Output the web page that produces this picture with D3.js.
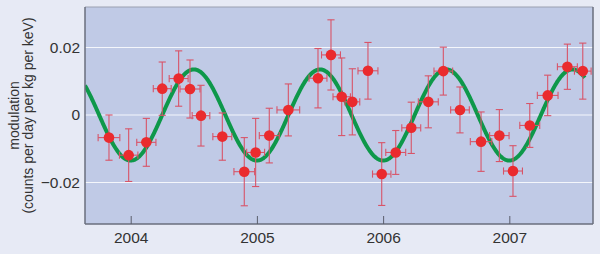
<!DOCTYPE html>
<html>
<head>
<meta charset="utf-8">
<script src="https://cdn.jsdelivr.net/npm/d3@7"></script>
<style>
  html, body { margin: 0; padding: 0; background: #e7eaf5; }
  svg { display: block; }
  text { font-family: "Liberation Sans", Arial, Helvetica, sans-serif; fill: #333; }
</style>
</head>
<body>
<svg id="chart" width="600" height="254"></svg>
<script>
// ---- data ----
const years = [2003.828, 2003.984, 2004.124, 2004.250, 2004.380, 2004.470, 2004.557, 2004.726, 2004.900, 2004.990,
               2005.098, 2005.249, 2005.484, 2005.587, 2005.672, 2005.756, 2005.880, 2005.989, 2006.100, 2006.223,
               2006.358, 2006.477, 2006.609, 2006.776, 2006.921, 2007.029, 2007.162, 2007.304, 2007.460, 2007.582];
const values = [-0.0067, -0.0119, -0.0081, 0.0078, 0.0108, 0.0077, -0.0002, -0.0064, -0.0168, -0.0111,
                -0.0061, 0.0015, 0.0109, 0.0178, 0.0054, 0.0039, 0.0131, -0.0175, -0.0111, -0.0038,
                0.0039, 0.0130, 0.0015, -0.0079, -0.0061, -0.0166, -0.0031, 0.0058, 0.0143, 0.0130];
const yErrors = [0.0067, 0.0078, 0.0071, 0.0079, 0.0082, 0.0086, 0.0090, 0.0070, 0.0101, 0.0101,
                 0.0081, 0.0077, 0.0088, 0.0104, 0.0115, 0.0098, 0.0084, 0.0093, 0.0065, 0.0076,
                 0.0077, 0.0071, 0.0068, 0.0088, 0.0077, 0.0075, 0.0065, 0.0060, 0.0067, 0.0083];
const xErrors = [0.086, 0.073, 0.076, 0.071, 0.075, 0.079, 0.070, 0.075, 0.082, 0.071,
                 0.079, 0.090, 0.071, 0.075, 0.069, 0.059, 0.079, 0.073, 0.079, 0.075,
                 0.079, 0.074, 0.074, 0.085, 0.077, 0.075, 0.079, 0.082, 0.079, 0.066];
const xTicks = [2004, 2005, 2006, 2007];
const yTicks = [-0.02, 0, 0.02];
const yTickLabels = ["\u22120.02", "0", "0.02"];
// cosine model curve parameters (fit shown in green)
const modelAmplitude = 0.0135;
const modelPeriod = 1.0;      // years
const modelPeakPhase = 0.5;   // fraction of year at maximum
const modelRange = [2003.638, 2007.60];

// ---- layout ----
const svg = d3.select("#chart");
const plot = { left: 85, right: 593, top: 7, bottom: 224 };

const x = d3.scaleLinear().domain([2003.638, 2007.663]).range([plot.left, plot.right]);
const y = d3.scaleLinear().domain([-0.0323, 0.0320]).range([plot.bottom, plot.top]);

svg.append("rect").attr("width", 600).attr("height", 254).attr("fill", "#e7eaf5");

// panel
svg.append("rect")
  .attr("x", plot.left).attr("y", plot.top)
  .attr("width", plot.right - plot.left).attr("height", plot.bottom - plot.top)
  .attr("fill", "#c0cae6");

// grid lines
svg.append("g").selectAll("line").data(yTicks).join("line")
  .attr("x1", plot.left).attr("x2", plot.right)
  .attr("y1", d => y(d)).attr("y2", d => y(d))
  .attr("stroke", "#f4f6fb").attr("stroke-width", 1.2);

// clip
svg.append("clipPath").attr("id", "clip").append("rect")
  .attr("x", plot.left).attr("y", plot.top)
  .attr("width", plot.right - plot.left).attr("height", plot.bottom - plot.top);

const g = svg.append("g").attr("clip-path", "url(#clip)");

// model curve
const curveXs = d3.range(modelRange[0], modelRange[1] + 1e-9, 0.005);
const line = d3.line()
  .x(t => x(t))
  .y(t => y(modelAmplitude * Math.cos(2 * Math.PI * (t - modelPeakPhase) / modelPeriod)))
  .curve(d3.curveLinear);
g.append("path").datum(curveXs)
  .attr("d", line)
  .attr("fill", "none")
  .attr("stroke", "#0e984a")
  .attr("stroke-width", 4)
  .attr("stroke-linecap", "butt");

// error bars
const pts = years.map((t, i) => ({ t, v: values[i], ey: yErrors[i], ex: xErrors[i] }));
const errColor = "#d85468";
const cap = 3.6;
const eb = g.append("g").attr("stroke", errColor).attr("stroke-width", 1.1).attr("fill", "none");
pts.forEach(p => {
  const cx = x(p.t), cy = y(p.v);
  const y1 = y(p.v + p.ey), y2 = y(p.v - p.ey);
  const x1 = x(p.t - p.ex), x2 = x(p.t + p.ex);
  eb.append("line").attr("x1", cx).attr("x2", cx).attr("y1", y1).attr("y2", y2);
  eb.append("line").attr("x1", cx - cap).attr("x2", cx + cap).attr("y1", y1).attr("y2", y1);
  eb.append("line").attr("x1", cx - cap).attr("x2", cx + cap).attr("y1", y2).attr("y2", y2);
  eb.append("line").attr("x1", x1).attr("x2", x2).attr("y1", cy).attr("y2", cy);
  eb.append("line").attr("x1", x1).attr("x2", x1).attr("y1", cy - cap).attr("y2", cy + cap);
  eb.append("line").attr("x1", x2).attr("x2", x2).attr("y1", cy - cap).attr("y2", cy + cap);
});

// points
g.append("g").selectAll("circle").data(pts).join("circle")
  .attr("cx", p => x(p.t)).attr("cy", p => y(p.v))
  .attr("r", 5.3)
  .attr("fill", "#ea2b2e");

// panel border
svg.append("line").attr("x1", plot.left).attr("x2", plot.right).attr("y1", plot.top).attr("y2", plot.top)
  .attr("stroke", "#9aa0b0").attr("stroke-width", 1);
svg.append("line").attr("x1", plot.right).attr("x2", plot.right).attr("y1", plot.top).attr("y2", plot.bottom)
  .attr("stroke", "#6a6e7c").attr("stroke-width", 1.5);
svg.append("line").attr("x1", plot.left).attr("x2", plot.left).attr("y1", plot.top).attr("y2", plot.bottom)
  .attr("stroke", "#6a6e7c").attr("stroke-width", 1.5);
svg.append("line").attr("x1", plot.left).attr("x2", plot.right).attr("y1", plot.bottom).attr("y2", plot.bottom)
  .attr("stroke", "#6a6e7c").attr("stroke-width", 1.5);

// x ticks (inner) and labels
const xAxis = d3.axisBottom(x).tickValues(xTicks).tickSize(0).tickPadding(0).tickFormat(d3.format("d"));
const xg = svg.append("g").attr("transform", `translate(0,${plot.bottom})`).call(xAxis);
xg.select(".domain").remove();
xg.selectAll(".tick text").attr("y", 19).attr("dy", 0).style("font-size", "15.5px").attr("fill", "#333");
xg.selectAll(".tick").append("line").attr("y1", 0).attr("y2", -8).attr("stroke", "#5a5e6c").attr("stroke-width", 1);

// y labels
const yAxis = d3.axisLeft(y).tickValues(yTicks).tickSize(0).tickPadding(5)
  .tickFormat((d, i) => yTickLabels[i]);
const yg = svg.append("g").attr("transform", `translate(${plot.left},0)`).call(yAxis);
yg.select(".domain").remove();
yg.selectAll(".tick text").style("font-size", "15.5px").attr("fill", "#333");

// y title
const yt = svg.append("text")
  .attr("transform", `translate(0,${(plot.top + plot.bottom) / 2}) rotate(-90)`)
  .attr("text-anchor", "middle")
  .style("font-size", "14px");
yt.append("tspan").attr("x", 0).attr("y", 19).text("modulation");
yt.append("tspan").attr("x", 0).attr("y", 33).text("(counts per day per kg per keV)");
</script>
</body>
</html>
